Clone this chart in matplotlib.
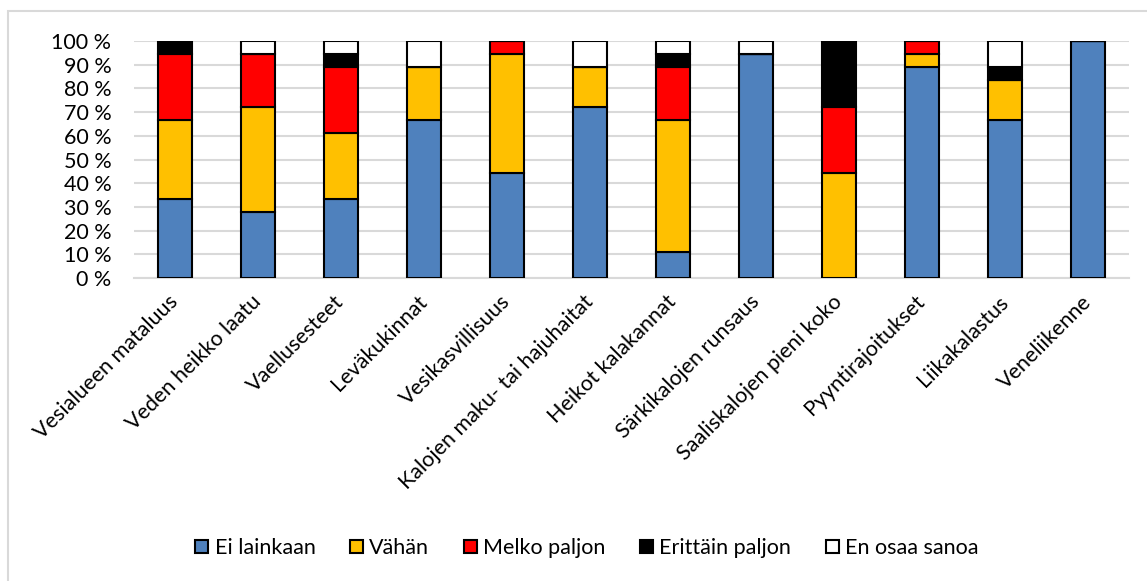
import matplotlib
matplotlib.use("Agg")
import matplotlib.pyplot as plt
import numpy as np
from matplotlib.patches import Rectangle
from matplotlib.ticker import FuncFormatter

plt.rcParams["font.family"] = ["Lato", "DejaVu Sans"]

# ── data (% of answers) ─────────────────────────────────────────────
categories = [
    "Vesialueen mataluus", "Veden heikko laatu", "Vaellusesteet",
    "Leväkukinnat", "Vesikasvillisuus", "Kalojen maku- tai hajuhaitat",
    "Heikot kalakannat", "Särkikalojen runsaus", "Saaliskalojen pieni koko",
    "Pyyntirajoitukset", "Liikakalastus", "Veneliikenne",
]
ei_lainkaan    = [33.3, 27.8, 33.3, 66.7, 44.4, 72.2, 11.1, 94.4,  0.0, 88.9, 66.7, 100.0]
vahan          = [33.3, 44.4, 27.8, 22.2, 50.0, 16.7, 55.6,  0.0, 44.4,  5.6, 16.7,   0.0]
melko_paljon   = [27.8, 22.2, 27.8,  0.0,  5.6,  0.0, 22.2,  0.0, 27.8,  5.6,  0.0,   0.0]
erittain_paljon = [5.6,  0.0,  5.6,  0.0,  0.0,  0.0,  5.6,  0.0, 27.8,  0.0,  5.6,   0.0]
en_osaa_sanoa  = [ 0.0,  5.6,  5.6, 11.1,  0.0, 11.1,  5.6,  5.6,  0.0,  0.0, 11.1,   0.0]

series = [
    ("Ei lainkaan", ei_lainkaan, "#4f81bd"),
    ("Vähän", vahan, "#ffc000"),
    ("Melko paljon", melko_paljon, "#ff0000"),
    ("Erittäin paljon", erittain_paljon, "#000000"),
    ("En osaa sanoa", en_osaa_sanoa, "#ffffff"),
]

FS = 15.5

fig = plt.figure(figsize=(11.47, 5.81), dpi=100)
ax = fig.add_axes([0.1164, 0.5215, 0.8683, 0.4079])

# outer chart frame
fig.patches.append(Rectangle((8 / 1147, -0.1), 1.2, 1 - 11 / 581 + 0.1,
                             transform=fig.transFigure, fill=False,
                             edgecolor="#d9d9d9", linewidth=1.5, zorder=0))

x = np.arange(len(categories))
bottom = np.zeros(len(categories))
for name, vals, color in series:
    vals = np.array(vals)
    ax.bar(x, vals, 0.4, bottom=bottom, color=color, edgecolor="black",
           linewidth=1.5, label=name, zorder=3)
    bottom += vals

ax.set_xlim(-0.5, len(categories) - 0.5)
ax.set_ylim(0, 100)
ax.set_yticks(np.arange(0, 101, 10))
ax.yaxis.set_major_formatter(FuncFormatter(lambda v, _: f"{v:.0f} %"))
ax.grid(axis="y", color="#d9d9d9", linewidth=1.5, zorder=0)
for side in ["top", "right", "left"]:
    ax.spines[side].set_visible(False)
ax.spines["bottom"].set_color("#d9d9d9")
ax.spines["bottom"].set_linewidth(1.5)
ax.tick_params(axis="both", length=0, labelsize=FS, colors="black")
ax.tick_params(axis="y", pad=16)

ax.set_xticks(x)
ax.set_xticklabels(categories, rotation=45, ha="right", va="center",
                   rotation_mode="anchor", fontsize=FS)
ax.tick_params(axis="x", pad=15)

ax.legend(loc="center", bbox_to_anchor=(587 / 1147, 1 - 548 / 581),
          bbox_transform=fig.transFigure, ncol=5, frameon=False,
          fontsize=FS, handlelength=0.6, handleheight=0.6,
          handletextpad=0.3, columnspacing=1.6)

fig.savefig("out.png", dpi=100)
